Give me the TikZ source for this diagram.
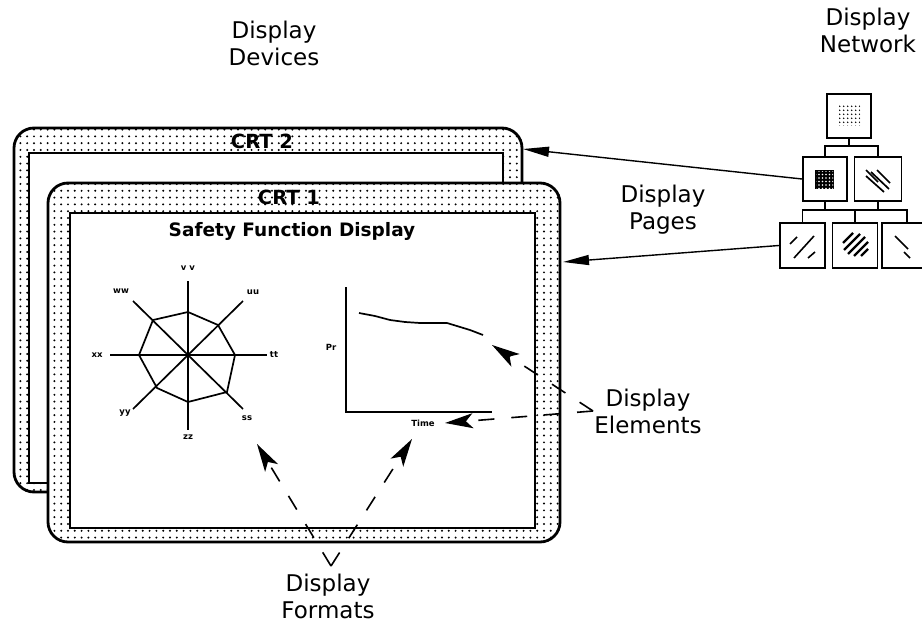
\documentclass[tikz,border=0pt]{standalone}
\usepackage{fontspec}
\setmainfont{DejaVu Sans}
\usetikzlibrary{arrows.meta,patterns.meta}
\tikzset{
  lbl/.style={font=\fontsize{23}{27}\selectfont, align=center, inner sep=0pt},
  crtlbl/.style={font=\bfseries\fontsize{19.5}{19.5}\selectfont, inner sep=0pt},
  tiny/.style={font=\bfseries\fontsize{8.5}{8.5}\selectfont, inner sep=0pt},
  netbox/.style={draw, line width=1.8pt, fill=white, minimum width=44pt, minimum height=44pt, inner sep=0pt},
  pagearrow/.style={line width=1.4pt, -{Triangle[length=26pt,width=10pt]}},
  elemarrow/.style={line width=1.6pt, dash pattern=on 16pt off 17pt, -{Stealth[length=28pt,width=15pt,inset=7pt]}},
  dotfill/.style={pattern={Dots[distance=6.8pt,radius=1.1pt]}, pattern color=black},
}
\begin{document}
\begin{tikzpicture}[x=1pt,y=-1pt]
\useasboundingbox (0,0) rectangle (922,626);

% ---------- CRT 2 ----------
\fill[white, rounded corners=20pt] (14,128) rectangle (522,492);
\path[dotfill, even odd rule] [rounded corners=20pt] (14,128) rectangle (522,492) [sharp corners] (29,153) rectangle (503,483);
\draw[line width=2.8pt, rounded corners=20pt] (14,128) rectangle (522,492);
\draw[line width=2.5pt] (29,153) rectangle (503,483);
\node[crtlbl] (crt2) at (262,141) {CRT 2};

% ---------- CRT 1 ----------
\fill[white, rounded corners=20pt] (48,183) rectangle (560,542);
\path[dotfill, even odd rule] [rounded corners=20pt] (48,183) rectangle (560,542) [sharp corners] (70,213) rectangle (535,528);
\draw[line width=2.8pt, rounded corners=20pt] (48,183) rectangle (560,542);
\draw[line width=2.5pt] (70,213) rectangle (535,528);
\node[crtlbl] (crt1) at (289,197) {CRT 1};
\node[font=\bfseries\fontsize{18.5}{18.5}\selectfont, inner sep=0pt] (title) at (292,231) {Safety Function Display};

% ---------- Radar chart ----------
\coordinate (rc) at (188,355);
\draw[line width=1.7pt] (188,281) -- (188,430);
\draw[line width=1.7pt] (110,355) -- (267,355);
\draw[line width=1.7pt] (133,301) -- (243,409);
\draw[line width=1.7pt] (133,409) -- (243,301);
\draw[line width=1.7pt] (188,312) -- (218,325) -- (235,355) -- (227,392) -- (188,402) -- (157,388) -- (139,355) -- (153,320) -- cycle;
\node[tiny] (lvv) at (188,268) {v v};
\node[tiny] (lww) at (121,291) {ww};
\node[tiny] (luu) at (253,292) {uu};
\node[tiny] (ltt) at (274,355) {tt};
\node[tiny] (lss) at (247,418) {ss};
\node[tiny] (lzz) at (188,437) {zz};
\node[tiny] (lyy) at (125,413) {yy};
\node[tiny] (lxx) at (97,355) {xx};

% ---------- Trend chart ----------
\draw[line width=1.9pt] (346,287) -- (346,412) -- (492,412);
\draw[line width=1.7pt] (359,313) -- (375,316) -- (390,320) -- (405,322) -- (420,323) -- (447,323) -- (470,330) -- (483,335);
\node[tiny] (pr) at (331,347) {Pr};
\node[tiny] (time) at (423,423) {Time};

% ---------- Network ----------
\node[netbox] (n0) at (849,116) {};
\node[netbox] (n1) at (825,179) {};
\node[netbox, minimum width=47pt] (n2) at (878,179) {};
\node[netbox, minimum width=45pt, minimum height=45pt] (n3) at (802.5,245.5) {};
\node[netbox, minimum width=45pt, minimum height=45pt] (n4) at (855,245.5) {};
\node[netbox, minimum width=50pt, minimum height=45pt] (n5) at (907,245.5) {};
\coordinate (b0) at (849,146);
\coordinate (b1) at (853,210);
\draw[line width=1.5pt] (n0.south) -- (b0);
\draw[line width=1.5pt] (n1.north) |- (b0) -| (n2.north);
\draw[line width=1.5pt] (n1.south) -- (n1.south |- b1);
\draw[line width=1.5pt] (n2.south) -- (n2.south |- b1);
\draw[line width=1.5pt] (n3.north) |- (n5.north |- b1) -- (n5.north);
\draw[line width=1.5pt] (n4.north) -- (n4.north |- b1);
% box contents
\path[pattern={Dots[distance=4pt,radius=1pt]}, pattern color=black] (839,106) rectangle (860,126);
\fill[black] (815,170) rectangle (834,189);
\path[pattern={Dots[distance=3.5pt,radius=0.8pt]}, pattern color=white] (816,171) rectangle (833,188);
\begin{scope}[line width=1.7pt]
\draw (866,170) -- (878,182);
\draw (866,176) -- (884,192);
\draw (871,172) -- (889,189);
\draw (877,170) -- (890,183);
\end{scope}
\begin{scope}[line width=1.6pt]
\draw (790,244) -- (797,237);
\draw (794,258) -- (814,236);
\draw (808,258) -- (815,252);
\end{scope}
\begin{scope}[line width=2.3pt]
\draw (843,243) -- (853,233);
\draw (844,250) -- (860,234);
\draw (848,254) -- (865,237);
\draw (854,256) -- (868,242);
\draw (861,256) -- (868,249);
\end{scope}
\begin{scope}[line width=1.6pt]
\draw (895,236) -- (908,249);
\draw (904,252) -- (910,258);
\end{scope}

% ---------- Labels ----------
\node[lbl] (ldev) at (274,43) {Display\\Devices};
\node[lbl] (lnet) at (868,30) {Display\\Network};
\node[lbl] (lpages) at (663,210) {Display\\Pages};
\node[lbl] (lelem) at (648,411) {Display\\Elements};
\node[lbl] (lfmt) at (328,596) {Display\\Formats};

% ---------- Arrows ----------
\coordinate (crt2r) at (523,149);
\coordinate (crt1r) at (563,262);
\draw[pagearrow] (n1.west) -- (crt2r);
\draw[pagearrow] (n3.west) -- (crt1r);

\coordinate (econv) at (593,411);
\coordinate (etip1) at (492,345);
\coordinate (etip2) at (445,423);
\draw[elemarrow] (econv) -- (etip1);
\draw[elemarrow] (econv) -- (etip2);

\coordinate (fconv) at (331,566);
\coordinate (ftip1) at (257,444);
\coordinate (ftip2) at (412,439);
\draw[elemarrow] (fconv) -- (ftip1);
\draw[elemarrow] (fconv) -- (ftip2);
\end{tikzpicture}
\end{document}
